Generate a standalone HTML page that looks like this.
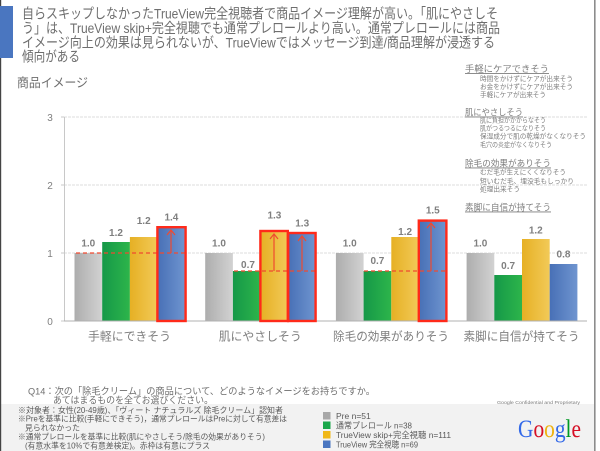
<!DOCTYPE html>
<html><head><meta charset="utf-8"><style>
html,body{margin:0;padding:0;background:#fff;}
svg{display:block;}
text{font-family:"Liberation Sans","Noto Sans CJK JP",sans-serif;}
</style></head><body>
<svg width="600" height="451" viewBox="0 0 600 451" xmlns="http://www.w3.org/2000/svg">
<defs>
<linearGradient id="gGray" x1="0" x2="1" y1="0" y2="0"><stop offset="0" stop-color="#adadad"/><stop offset="1" stop-color="#d2d2d2"/></linearGradient>
<linearGradient id="gGreen" x1="0" x2="1" y1="0" y2="0"><stop offset="0" stop-color="#159848"/><stop offset="1" stop-color="#2db54b"/></linearGradient>
<linearGradient id="gYellow" x1="0" x2="1" y1="0" y2="0"><stop offset="0" stop-color="#e6b024"/><stop offset="1" stop-color="#f2ca58"/></linearGradient>
<linearGradient id="gBlue" x1="0" x2="1" y1="0" y2="0"><stop offset="0" stop-color="#4870b6"/><stop offset="1" stop-color="#6f95d0"/></linearGradient>
</defs>
<rect x="0" y="0" width="600" height="451" fill="#fff"/>
<!-- footer band -->
<rect x="0" y="404" width="595" height="47" fill="#f2f2f2"/>
<!-- borders -->
<rect x="0" y="0" width="1.2" height="451" fill="#444"/>
<rect x="594" y="0" width="1.6" height="451" fill="#8c8c8c"/>
<!-- title -->
<rect x="0" y="6" width="13" height="52" fill="#4a76c0"/>
<g fill="#6e6e6e" font-size="14">
<text x="22" y="18.5" textLength="476" lengthAdjust="spacingAndGlyphs">自らスキップしなかったTrueView完全視聴者で商品イメージ理解が高い。「肌にやさしそ</text>
<text x="22" y="33" textLength="478" lengthAdjust="spacingAndGlyphs">う」は、TrueView skip+完全視聴でも通常プレロールより高い。通常プレロールには商品</text>
<text x="22" y="47.5" textLength="473" lengthAdjust="spacingAndGlyphs">イメージ向上の効果は見られないが、TrueViewではメッセージ到達/商品理解が浸透する</text>
<text x="22" y="61.5" textLength="58" lengthAdjust="spacingAndGlyphs">傾向がある</text>
</g>
<text x="17" y="87" font-size="12.5" fill="#6e6e6e" textLength="71" lengthAdjust="spacingAndGlyphs">商品イメージ</text>

<!-- gridlines -->
<g stroke="#dcdcdc" stroke-width="1" stroke-dasharray="3 1">
<line x1="64" y1="117" x2="587" y2="117"/>
<line x1="64" y1="185" x2="587" y2="185"/>
<line x1="64" y1="253" x2="587" y2="253"/>
</g>
<line x1="64.5" y1="117" x2="64.5" y2="321" stroke="#c8c8c8" stroke-width="1"/>
<g stroke="#c8c8c8"><line x1="61" y1="117" x2="64" y2="117"/><line x1="61" y1="185" x2="64" y2="185"/><line x1="61" y1="253" x2="64" y2="253"/><line x1="61" y1="321" x2="64" y2="321"/></g>
<g fill="#7f7f7f" font-size="10" text-anchor="middle">
<text x="50" y="121">3</text><text x="50" y="189">2</text><text x="50" y="257">1</text><text x="50" y="325">0</text>
</g>

<!-- annotation box -->
<g fill="#7f7f7f">
<text x="465" y="72" font-size="9" text-decoration="underline" textLength="84" lengthAdjust="spacingAndGlyphs">手軽にケアできそう</text>
<text x="480" y="81" font-size="6.8" textLength="93" lengthAdjust="spacingAndGlyphs">時間をかけずにケアが出来そう</text>
<text x="480" y="89" font-size="6.8" textLength="93" lengthAdjust="spacingAndGlyphs">お金をかけずにケアが出来そう</text>
<text x="480" y="97" font-size="6.8" textLength="66" lengthAdjust="spacingAndGlyphs">手軽にケアが出来そう</text>
<text x="465" y="115.5" font-size="9" text-decoration="underline" textLength="58" lengthAdjust="spacingAndGlyphs">肌にやさしそう</text>
<text x="480" y="122.5" font-size="6.8" textLength="66" lengthAdjust="spacingAndGlyphs">肌に負担がかからなそう</text>
<text x="480" y="130.5" font-size="6.8" textLength="66" lengthAdjust="spacingAndGlyphs">肌がつるつるになりそう</text>
<text x="480" y="138.5" font-size="6.8" textLength="106" lengthAdjust="spacingAndGlyphs">保湿成分で肌の乾燥がなくなりそう</text>
<text x="480" y="147" font-size="6.8" textLength="72" lengthAdjust="spacingAndGlyphs">毛穴の炎症がなくなりそう</text>
<text x="465" y="166.5" font-size="9" text-decoration="underline" textLength="86" lengthAdjust="spacingAndGlyphs">除毛の効果がありそう</text>
<text x="480" y="174.5" font-size="6.8" textLength="86" lengthAdjust="spacingAndGlyphs">むだ毛が生えにくくなりそう</text>
<text x="480" y="183.5" font-size="6.8" textLength="94" lengthAdjust="spacingAndGlyphs">短いむだ毛、埋没毛もしっかり</text>
<text x="480" y="191.5" font-size="6.8" textLength="40" lengthAdjust="spacingAndGlyphs">処理出来そう</text>
<text x="465" y="210.5" font-size="9" text-decoration="underline" textLength="86" lengthAdjust="spacingAndGlyphs">素脚に自信が持てそう</text>
</g>

<!-- bars group 1 -->
<rect x="74.5" y="253" width="27.7" height="68" fill="url(#gGray)"/>
<rect x="102.2" y="242" width="27.7" height="79" fill="url(#gGreen)"/>
<rect x="129.9" y="237" width="27.7" height="84" fill="url(#gYellow)"/>
<rect x="157.6" y="228" width="27.7" height="93" fill="url(#gBlue)"/>
<!-- group 2 -->
<rect x="205.2" y="253" width="27.7" height="68" fill="url(#gGray)"/>
<rect x="232.9" y="271" width="27.7" height="50" fill="url(#gGreen)"/>
<rect x="260.6" y="232" width="27.7" height="89" fill="url(#gYellow)"/>
<rect x="288.3" y="233" width="27.7" height="88" fill="url(#gBlue)"/>
<!-- group 3 -->
<rect x="335.9" y="253" width="27.7" height="68" fill="url(#gGray)"/>
<rect x="363.6" y="271" width="27.7" height="50" fill="url(#gGreen)"/>
<rect x="391.3" y="237" width="27.7" height="84" fill="url(#gYellow)"/>
<rect x="419" y="221" width="27.7" height="100" fill="url(#gBlue)"/>
<!-- group 4 -->
<rect x="466.6" y="253" width="27.7" height="68" fill="url(#gGray)"/>
<rect x="494.3" y="275" width="27.7" height="46" fill="url(#gGreen)"/>
<rect x="522" y="239" width="27.7" height="82" fill="url(#gYellow)"/>
<rect x="549.7" y="264" width="27.7" height="57" fill="url(#gBlue)"/>

<line x1="64" y1="321" x2="587" y2="321" stroke="#b0b0b0" stroke-width="1"/>

<!-- red dashed & arrows -->
<g stroke="#f04a30" stroke-width="1.2" fill="none">
<line x1="76" y1="253" x2="185" y2="253" stroke-dasharray="4 3"/>
<line x1="171" y1="253" x2="171" y2="230"/><path d="M167 235 L171 230 L175 235"/>
<line x1="234" y1="271" x2="315" y2="271" stroke-dasharray="4 3"/>
<line x1="274" y1="271" x2="274" y2="234"/><path d="M270 239 L274 234 L278 239"/>
<line x1="302" y1="271" x2="302" y2="236"/><path d="M298 241 L302 236 L306 241"/>
<line x1="364" y1="271" x2="445" y2="271" stroke-dasharray="4 3"/>
<line x1="431" y1="271" x2="431" y2="223"/><path d="M427 228 L431 223 L435 228"/>
</g>
<g stroke="#ff2a1a" stroke-width="2.4" fill="none">
<rect x="157.4" y="227.2" width="28.2" height="93.8"/>
<rect x="260.4" y="231" width="27.4" height="90"/>
<rect x="288.2" y="233" width="27.4" height="88"/>
<rect x="418.8" y="220.6" width="27.6" height="100.4"/>
</g>

<!-- value labels -->
<g fill="#7f7f7f" font-size="10" font-weight="bold" text-anchor="middle">
<text x="88.3" y="246.5">1.0</text>
<text x="116" y="236">1.2</text>
<text x="143.7" y="224">1.2</text>
<text x="171.4" y="220.5">1.4</text>
<text x="219" y="246.5">1.0</text>
<text x="248" y="268">0.7</text>
<text x="274.4" y="218.5">1.3</text>
<text x="302.2" y="226.5">1.3</text>
<text x="349.7" y="246.5">1.0</text>
<text x="377.4" y="264">0.7</text>
<text x="405.1" y="235">1.2</text>
<text x="432.8" y="213.5">1.5</text>
<text x="480.4" y="246.5">1.0</text>
<text x="508.1" y="269">0.7</text>
<text x="535.8" y="233.5">1.2</text>
<text x="563.5" y="257.5">0.8</text>
</g>

<!-- category labels -->
<g fill="#7f7f7f" font-size="12" text-anchor="middle">
<text x="129.5" y="340.5" textLength="83" lengthAdjust="spacingAndGlyphs">手軽にできそう</text>
<text x="260.2" y="340.5" textLength="83" lengthAdjust="spacingAndGlyphs">肌にやさしそう</text>
<text x="391" y="340.5" textLength="116" lengthAdjust="spacingAndGlyphs">除毛の効果がありそう</text>
<text x="521.5" y="340.5" textLength="116" lengthAdjust="spacingAndGlyphs">素脚に自信が持てそう</text>
</g>

<!-- question -->
<g fill="#6e6e6e" font-size="9.5">
<text x="28" y="394.5" textLength="347" lengthAdjust="spacingAndGlyphs">Q14：次の「除毛クリーム」の商品について、どのようなイメージをお持ちですか。</text>
<text x="53" y="403.5" textLength="160" lengthAdjust="spacingAndGlyphs">あてはまるものを全てお選びください。</text>
</g>
<text x="497" y="404" font-size="4.6" fill="#777" textLength="83" lengthAdjust="spacingAndGlyphs">Google Confidential and Proprietary</text>

<!-- notes -->
<g fill="#595959" font-size="7.8">
<text x="18" y="413" textLength="265" lengthAdjust="spacingAndGlyphs">※対象者：女性(20-49歳)、「ヴィート ナチュラルズ 除毛クリーム」認知者</text>
<text x="18" y="421.5" textLength="269" lengthAdjust="spacingAndGlyphs">※Preを基準に比較(手軽にできそう)，通常プレロールはPreに対して有意差は</text>
<text x="25" y="430.5" textLength="55" lengthAdjust="spacingAndGlyphs">見られなかった</text>
<text x="18" y="439.5" textLength="247" lengthAdjust="spacingAndGlyphs">※通常プレロールを基準に比較(肌にやさしそう/除毛の効果がありそう)</text>
<text x="25" y="448.5" textLength="185" lengthAdjust="spacingAndGlyphs">(有意水準を10%で有意差検定)。赤枠は有意にプラス</text>
</g>

<!-- legend -->
<rect x="323" y="412" width="7.5" height="7.5" fill="#a8a8a8"/>
<rect x="323" y="421.5" width="7.5" height="7.5" fill="#1aa74a"/>
<rect x="323" y="431" width="7.5" height="7.5" fill="#f0b818"/>
<rect x="323" y="440.5" width="7.5" height="7.5" fill="#4a76c0"/>
<g fill="#595959" font-size="8.5">
<text x="336" y="419">Pre n=51</text>
<text x="336" y="428.5" textLength="76" lengthAdjust="spacingAndGlyphs">通常プレロール n=38</text>
<text x="336" y="438" textLength="115" lengthAdjust="spacingAndGlyphs">TrueView skip+完全視聴 n=111</text>
<text x="336" y="447.5" textLength="82" lengthAdjust="spacingAndGlyphs">TrueView 完全視聴 n=69</text>
</g>

<!-- Google logo -->
<text x="518" y="437" style="font-family:'Liberation Serif',serif;font-size:25px;" textLength="63" lengthAdjust="spacingAndGlyphs"><tspan fill="#3369e8">G</tspan><tspan fill="#d50f25">o</tspan><tspan fill="#eeb211">o</tspan><tspan fill="#3369e8">g</tspan><tspan fill="#009925">l</tspan><tspan fill="#d50f25">e</tspan></text>
</svg>
</body></html>
